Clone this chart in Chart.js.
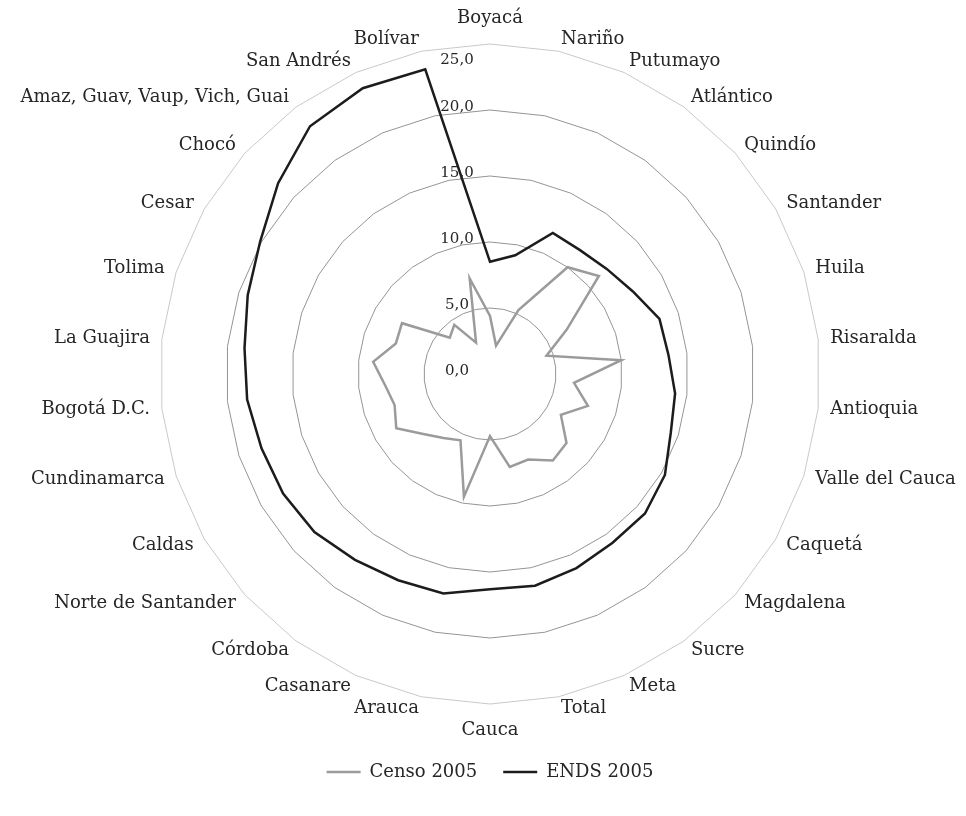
<!DOCTYPE html>
<html>
<head>
<meta charset="utf-8">
<script src="https://cdn.jsdelivr.net/npm/chart.js@4.4.1/dist/chart.umd.min.js"></script>
<style>
    body { margin: 0; background: #fff; }
    #wrap { width: 966px; height: 816px; }
</style>
</head>
<body>
<div id="wrap"><canvas id="radar_chart"></canvas></div>
<script>
// categorias, en sentido horario empezando arriba
const departamentos = ['Boyacá', 'Nariño', 'Putumayo', 'Atlántico', 'Quindío', 'Santander', 'Huila',
    'Risaralda', 'Antioquia', 'Valle del Cauca', 'Caquetá', 'Magdalena', 'Sucre', 'Meta', 'Total',
    'Cauca', 'Arauca', 'Casanare', 'Córdoba', 'Norte de Santander', 'Caldas', 'Cundinamarca',
    'Bogotá D.C.', 'La Guajira', 'Tolima', 'Cesar', 'Chocó', 'Amaz, Guav, Vaup, Vich, Guai',
    'San Andrés', 'Bolívar'];

const censo2005 = [4.4, 2.2, 5.3, 10.0, 11.1, 6.7, 4.5, 10.0, 6.4, 7.8, 6.2, 7.8, 8.1, 7.1, 7.2,
    4.7, 9.5, 5.5, 6.0, 6.8, 8.2, 7.6, 8.0, 8.9, 7.5, 7.7, 4.1, 4.6, 2.6, 7.4];

const ends2005 = [8.5, 9.2, 11.7, 11.6, 11.9, 12.5, 13.5, 13.6, 14.1, 14.4, 15.3, 15.8, 15.8, 16.1, 16.4,
    16.3, 17.0, 17.1, 17.4, 17.9, 18.1, 18.2, 18.5, 18.7, 19.3, 20.1, 21.6, 23.2, 23.7, 23.6];

const tickValues = [0, 5, 10, 15, 20, 25];
const tickText = ['0,0', '5,0', '10,0', '15,0', '20,0', '25,0'];

const fontFamily = '"DejaVu Serif", serif';
const textColor = '#262626';

// etiquetas del eje a la izquierda del eje vertical (como en Excel)
const tickLabelPlugin = {
    id: 'tickLabelPlugin',
    afterDatasetsDraw(chart) {
        const scale = chart.scales.r;
        const ctx = chart.ctx;
        ctx.save();
        ctx.font = '15px ' + fontFamily;
        ctx.fillStyle = textColor;
        ctx.textAlign = 'center';
        ctx.textBaseline = 'middle';
        tickValues.forEach((v, i) => {
            const d = scale.getDistanceFromCenterForValue(v);
            const dy = v === scale.max ? 16 : -3;
            ctx.fillText(tickText[i], scale.xCenter - 33, scale.yCenter - d + dy);
        });
        ctx.restore();
    }
};

// nombres de las categorias: alineados a la izq/der segun el lado, centrados arriba y abajo
const pointLabelPlugin = {
    id: 'pointLabelPlugin',
    afterDraw(chart) {
        const scale = chart.scales.r;
        const ctx = chart.ctx;
        ctx.save();
        ctx.font = '18px ' + fontFamily;
        ctx.fillStyle = textColor;
        ctx.textBaseline = 'middle';
        departamentos.forEach((name, i) => {
            const p = scale.getPointPosition(i, scale.drawingArea + 12);
            const dx = p.x - scale.xCenter;
            let y = p.y;
            if (Math.abs(dx) < 1) {
                ctx.textAlign = 'center';
                y += p.y < scale.yCenter ? -14 : 14;
            } else {
                ctx.textAlign = dx > 0 ? 'left' : 'right';
            }
            ctx.fillText(name, p.x, y);
        });
        ctx.restore();
    }
};

let canvas = document.querySelector('#radar_chart');

let chart = new Chart(canvas, {
    type: 'radar',
    data: {
        labels: departamentos,
        datasets: [{
            label: 'Censo 2005',
            data: censo2005,
            borderColor: '#9b9b9b',
            backgroundColor: '#9b9b9b',
            borderWidth: 2.5,
            pointRadius: 0,
            fill: false
        }, {
            label: 'ENDS 2005',
            data: ends2005,
            borderColor: '#1c1c1c',
            backgroundColor: '#1c1c1c',
            borderWidth: 2.5,
            pointRadius: 0,
            fill: false
        }]
    },
    options: {
        responsive: true,
        maintainAspectRatio: false,
        animation: false,
        layout: {
            padding: { top: 11, bottom: 25, left: 160, right: 146 }
        },
        elements: {
            line: { tension: 0 }
        },
        scales: {
            r: {
                min: 0,
                max: 25,
                ticks: {
                    stepSize: 5,
                    display: false
                },
                angleLines: { display: false },
                grid: {
                    circular: false,
                    lineWidth: 1,
                    color: (ctx) => ctx.tick && ctx.tick.value === 25 ? '#c9c9c9' : '#949494'
                },
                pointLabels: { display: false }
            }
        },
        plugins: {
            legend: {
                position: 'bottom',
                labels: {
                    usePointStyle: true,
                    pointStyle: 'line',
                    pointStyleWidth: 34,
                    padding: 26,
                    color: textColor,
                    font: { family: fontFamily, size: 18 }
                }
            },
            tooltip: { enabled: false }
        }
    },
    plugins: [tickLabelPlugin, pointLabelPlugin]
});
</script>
</body>
</html>
